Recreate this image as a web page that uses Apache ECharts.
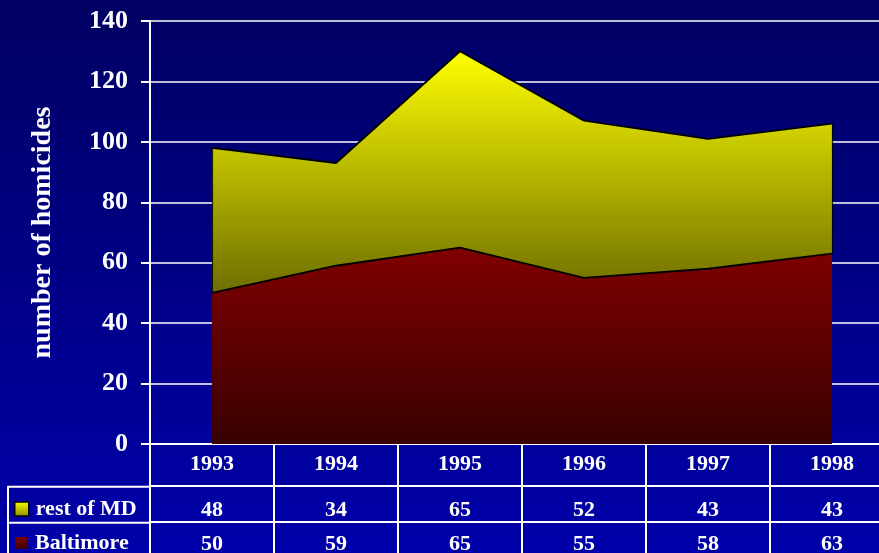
<!DOCTYPE html>
<html><head><meta charset="utf-8">
<script src="https://cdn.jsdelivr.net/npm/echarts@6/dist/echarts.min.js"></script>
<style>
html,body{margin:0;padding:0;overflow:hidden;width:879px;height:553px;background:#0000AA;}
#c{width:894px;height:553px;background:linear-gradient(to bottom,#000062 0%,#0000AA 100%);}
</style></head>
<body><div id="c"></div>
<script>
const years = ['1993','1994','1995','1996','1997','1998'];
const restOfMD = [48,34,65,52,43,43];
const baltimore = [50,59,65,55,58,63];
const yTicks = [0,20,40,60,80,100,120,140];

const FONT = "'Liberation Serif','Times New Roman',serif";
const chart = echarts.init(document.getElementById('c'), null, {renderer:'canvas'});

const yellowGrad = new echarts.graphic.LinearGradient(0,0,0,1,[{offset:0,color:'#FFFF00'},{offset:1,color:'#6E6E00'}]);
const redGrad = new echarts.graphic.LinearGradient(0,0,0,1,[{offset:0,color:'#800000'},{offset:1,color:'#380000'}]);
const yellowIcon = new echarts.graphic.LinearGradient(0,0,0,1,[{offset:0,color:'#FFFF00'},{offset:1,color:'#8A8A00'}]);
const redIcon = new echarts.graphic.LinearGradient(0,0,0,1,[{offset:0,color:'#800000'},{offset:1,color:'#400000'}]);

const labelBase = {color:'#fff', fontFamily:FONT, fontWeight:'bold', fontSize:22};
const legendText = {color:'#fff', fontFamily:FONT, fontWeight:'bold', fontSize:22, padding:[0,0,0,2]};

const last = years.length - 1;
const edgeLines = [
  [{coord:[years[0], baltimore[0]]}, {coord:[years[0], baltimore[0] + restOfMD[0]]}],
  [{coord:[years[last], baltimore[last]]}, {coord:[years[last], baltimore[last] + restOfMD[last]]}]
];

option = {
  backgroundColor:'transparent',
  animation:false,
  grid:{left:150, top:21, width:744, height:423, containLabel:false, outerBoundsMode:'none'},
  legend:[
    {left:9, top:493, padding:5, itemWidth:14, itemHeight:14, icon:'rect', selectedMode:false,
     textStyle:legendText,
     data:[{name:'rest of MD', itemStyle:{color:yellowIcon, borderColor:'#000', borderWidth:1.5}}]},
    {left:10, top:527, padding:5, itemWidth:12, itemHeight:12, icon:'rect', selectedMode:false,
     textStyle:Object.assign({}, legendText, {padding:[0,0,0,3]}),
     data:[{name:'Baltimore', itemStyle:{color:redIcon, borderWidth:0}}]}
  ],
  xAxis:[
    {type:'category', data:years, boundaryGap:true, position:'bottom',
     axisLine:{show:true, lineStyle:{color:'#fff', width:2}},
     axisTick:{show:true, length:109, lineStyle:{color:'#fff', width:2}},
     axisLabel:Object.assign({margin:9}, labelBase),
     splitLine:{show:false}},
    {type:'category', data:years, boundaryGap:true, position:'bottom', offset:42,
     axisLine:{show:true, lineStyle:{color:'#fff', width:2}},
     axisTick:{show:false},
     axisLabel:Object.assign({margin:13, formatter:(v,i)=>String(restOfMD[i])}, labelBase)},
    {type:'category', data:years, boundaryGap:true, position:'bottom', offset:78,
     axisLine:{show:true, lineStyle:{color:'#fff', width:2}},
     axisTick:{show:false},
     axisLabel:Object.assign({margin:11, formatter:(v,i)=>String(baltimore[i])}, labelBase)}
  ],
  yAxis:{
    type:'value', min:yTicks[0], max:yTicks[yTicks.length-1], interval:20,
    name:'number of homicides', nameLocation:'middle', nameGap:93,
    nameTextStyle:{color:'#fff', fontFamily:FONT, fontWeight:'bold', fontSize:28},
    axisLine:{show:true, lineStyle:{color:'#fff', width:2}},
    axisTick:{show:true, length:9, lineStyle:{color:'#fff', width:2}},
    axisLabel:{color:'#fff', fontFamily:FONT, fontWeight:'bold', fontSize:26, margin:22},
    splitLine:{show:true, lineStyle:{color:'#fff', width:1.5}}
  },
  graphic:[
    {type:'line', shape:{x1:8,y1:486.7,x2:150,y2:486.7}, style:{stroke:'#fff', lineWidth:2}},
    {type:'line', shape:{x1:8,y1:522.7,x2:150,y2:522.7}, style:{stroke:'#fff', lineWidth:2}},
    {type:'line', shape:{x1:8,y1:486,x2:8,y2:553}, style:{stroke:'#fff', lineWidth:2}}
  ],
  series:[
    {name:'Baltimore', type:'line', stack:'total', data:baltimore, symbol:'none',
     lineStyle:{color:'#000', width:1.8}, itemStyle:{color:'#800000'},
     areaStyle:{color:redGrad, opacity:1}, z:3},
    {name:'rest of MD', type:'line', stack:'total', data:restOfMD, symbol:'none',
     lineStyle:{color:'#000', width:1.8}, itemStyle:{color:'#FFFF00'},
     areaStyle:{color:yellowGrad, opacity:1}, z:2,
     markLine:{silent:true, symbol:['none','none'], label:{show:false},
       lineStyle:{color:'#000', width:1.2, type:'solid', opacity:0.8}, data:edgeLines}}
  ]
};
chart.setOption(option);
</script></body></html>
